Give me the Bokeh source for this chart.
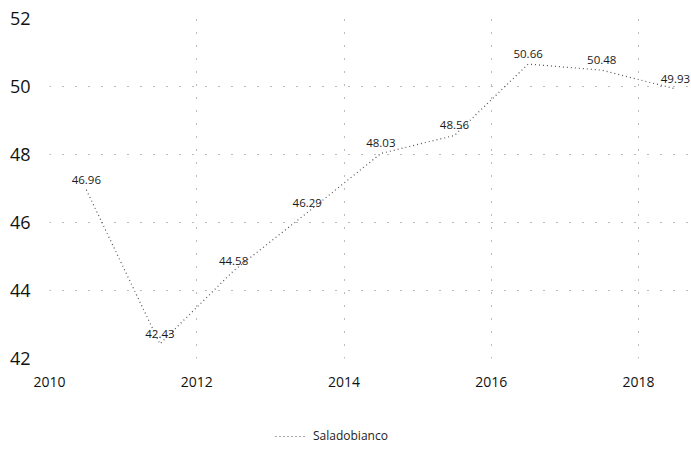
from bokeh.plotting import figure
from bokeh.layouts import column
from bokeh.models import ColumnDataSource, FixedTicker, Legend, LegendItem, Range1d
from bokeh.core.properties import value
from bokeh.embed import file_html
from bokeh.resources import INLINE

years = [2010.5, 2011.5, 2012.5, 2013.5, 2014.5, 2015.5, 2016.5, 2017.5, 2018.5]
values = [46.96, 42.43, 44.58, 46.29, 48.03, 48.56, 50.66, 50.48, 49.93]
series_name = "Saladobianco"
x_ticks = [2010, 2012, 2014, 2016, 2018]
y_ticks = [42, 44, 46, 48, 50, 52]

LINE_STYLE = dict(line_color="#555555", line_width=1.2, line_dash="1 3")

src = ColumnDataSource(dict(x=years, y=values, lab=["%.2f" % v for v in values]))

p = figure(frame_width=641, frame_height=340, output_backend="svg", toolbar_location=None,
           x_range=Range1d(2010, 2018.705), y_range=Range1d(42, 52),
           min_border_left=49, min_border_top=18, min_border_right=0, min_border_bottom=45)
p.outline_line_color = None

p.line("x", "y", source=src, **LINE_STYLE)
p.text("x", "y", text="lab", source=src, text_font=value("Open Sans"), text_font_size="11.5px",
       text_color="#1a1a1a", text_align="center", text_baseline="bottom", y_offset=-6)

for ax in (p.xaxis[0], p.yaxis[0]):
    ax.axis_line_color = None
    ax.major_tick_line_color = None
    ax.minor_tick_line_color = None
    ax.major_label_text_font = "Open Sans"
    ax.major_label_text_color = "#111111"

p.xaxis[0].ticker = FixedTicker(ticks=x_ticks)
p.yaxis[0].ticker = FixedTicker(ticks=y_ticks)
p.xaxis[0].major_label_text_font_size = "14px"
p.yaxis[0].major_label_text_font_size = "18px"
p.xaxis[0].major_label_standoff = 12
p.yaxis[0].major_label_standoff = 13

for g in (p.xgrid[0], p.ygrid[0]):
    g.grid_line_color = "#777777"
    g.grid_line_dash = "1 12"
    g.grid_line_width = 1
p.xgrid[0].ticker = FixedTicker(ticks=x_ticks)
p.ygrid[0].ticker = FixedTicker(ticks=y_ticks)

# legend strip below the chart (its line uses the series data, out of view)
lf = figure(frame_width=690, frame_height=45, output_backend="svg", toolbar_location=None,
            min_border_left=0, min_border_right=0, min_border_top=0, min_border_bottom=0,
            x_range=Range1d(0, 1), y_range=Range1d(0, 1))
lf.axis.visible = False
lf.grid.visible = False
lf.outline_line_color = None
swatch = lf.line(x=years, y=values, **LINE_STYLE)
legend = Legend(items=[LegendItem(label=series_name, renderers=[swatch])],
                location=(275, 4), orientation="horizontal",
                border_line_color=None, background_fill_alpha=0,
                padding=0, margin=0, glyph_width=32, glyph_height=14, label_height=14,
                label_standoff=6,
                label_text_font="Open Sans", label_text_font_size="12px", label_text_color="#222222")
lf.add_layout(legend)

layout = column(p, lf, spacing=0)
open("out.html", "w").write(file_html(layout, INLINE))
